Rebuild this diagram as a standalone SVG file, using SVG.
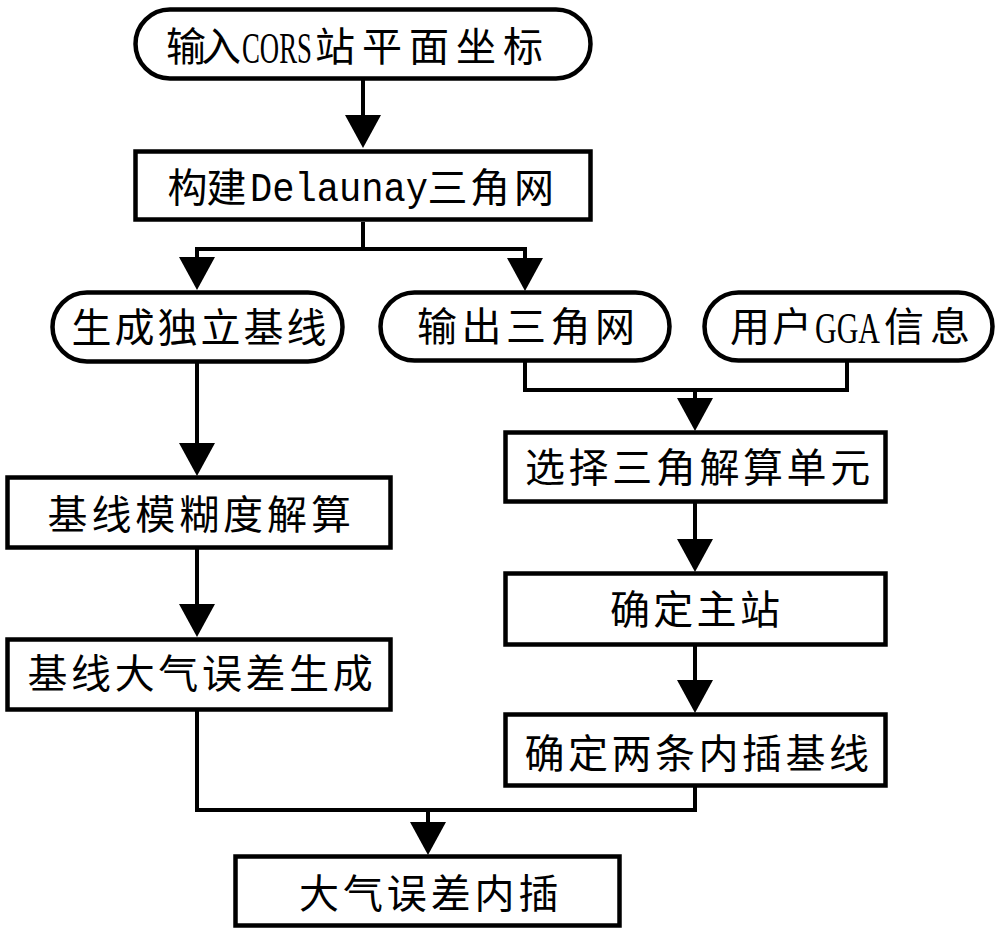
<svg xmlns="http://www.w3.org/2000/svg" width="1000" height="932" viewBox="0 0 1000 932">
<style>
.box{fill:#fff;stroke:#000;stroke-width:4.5}
.ln{fill:none;stroke:#000;stroke-width:4}
.zh{font-family:"Noto Sans CJK SC","Noto Sans CJK JP",sans-serif;font-size:40px;fill:#000}
.lat{font-family:"Liberation Serif",serif;font-size:44px;fill:#000}
.mono{font-family:"Liberation Mono",monospace;font-size:40px;fill:#000}
</style>
<defs>
<marker id="ah" viewBox="0 0 33 36" refX="0" refY="18" markerWidth="33" markerHeight="36" markerUnits="userSpaceOnUse" orient="auto">
<path d="M0,0 L33,18 L0,36 Z" fill="#000"/>
</marker>
</defs>
<rect width="1000" height="932" fill="#fff"/>
<g id="connectors">
<path class="ln" d="M363,80 V115" marker-end="url(#ah)"/>
<path class="ln" d="M363,222 V249 H197 V257" marker-end="url(#ah)"/>
<path class="ln" d="M363,249 H525 V258" marker-end="url(#ah)"/>
<path class="ln" d="M197,363 V443" marker-end="url(#ah)"/>
<path class="ln" d="M197,548 V604" marker-end="url(#ah)"/>
<path class="ln" d="M197,709 V810 H428"/>
<path class="ln" d="M695,786 V810 H428 V822" marker-end="url(#ah)"/>
<path class="ln" d="M525,362 V390 H695 V398" marker-end="url(#ah)"/>
<path class="ln" d="M847,362 V390 H695"/>
<path class="ln" d="M695,501 V539" marker-end="url(#ah)"/>
<path class="ln" d="M695,644 V680" marker-end="url(#ah)"/>
</g>
<g id="n1">
<rect class="box" x="135.5" y="9.5" width="455" height="69" rx="34.5"/>
<text class="zh" x="166 201" y="61">输入</text>
<text class="lat" transform="translate(242 63) scale(0.609 1)">CORS</text>
<text class="zh" x="315 362 409 456 503" y="61">站平面坐标</text>
</g>
<g id="n2">
<rect class="box" x="135.5" y="151.5" width="455" height="68"/>
<text class="zh" x="167.5 206.5" y="201.5">构建</text>
<text class="mono" transform="translate(250 201) scale(0.927 1)">Delaunay</text>
<text class="zh" x="427.5 470 514" y="201.5">三角网</text>
</g>
<g id="n3">
<rect class="box" x="52.5" y="292.5" width="290" height="69" rx="34.5"/>
<text class="zh" x="71.5 114.5 157.5 200.5 243.5 286.5" y="341.5">生成独立基线</text>
</g>
<g id="n4">
<rect class="box" x="380.5" y="292.5" width="289" height="68" rx="34"/>
<text class="zh" x="417 461.5 506 550.5 595" y="341">输出三角网</text>
</g>
<g id="n5">
<rect class="box" x="704.5" y="292.5" width="288" height="68" rx="34"/>
<text class="zh" x="730 772" y="341">用户</text>
<text class="lat" transform="translate(815 343) scale(0.682 1)">GGA</text>
<text class="zh" x="884 930" y="341">信息</text>
</g>
<g id="n6">
<rect class="box" x="7.5" y="477.5" width="383" height="70"/>
<text class="zh" x="47.5 91.4 135.3 179.2 223.1 267 310.9" y="528.5">基线模糊度解算</text>
</g>
<g id="n7">
<rect class="box" x="7.5" y="639.5" width="383" height="70"/>
<text class="zh" x="27.5 71.1 114.7 158.3 201.9 245.5 289.1 332.7" y="687.5">基线大气误差生成</text>
</g>
<g id="n8">
<rect class="box" x="505.5" y="432.5" width="380" height="69"/>
<text class="zh" x="525 568.6 612.2 655.8 699.4 743 786.6 830.2" y="481.5">选择三角解算单元</text>
</g>
<g id="n9">
<rect class="box" x="505.5" y="573.5" width="380" height="71"/>
<text class="zh" x="610 653.3 696.6 739.9" y="623.5">确定主站</text>
</g>
<g id="n10">
<rect class="box" x="505.5" y="714.5" width="380" height="71"/>
<text class="zh" x="524.5 568 611.5 655 698.5 742 785.5 829" y="767.5">确定两条内插基线</text>
</g>
<g id="n11">
<rect class="box" x="235.5" y="856.5" width="384" height="69"/>
<text class="zh" x="299 342.9 386.8 430.7 474.6 518.5" y="907.5">大气误差内插</text>
</g>
</svg>
